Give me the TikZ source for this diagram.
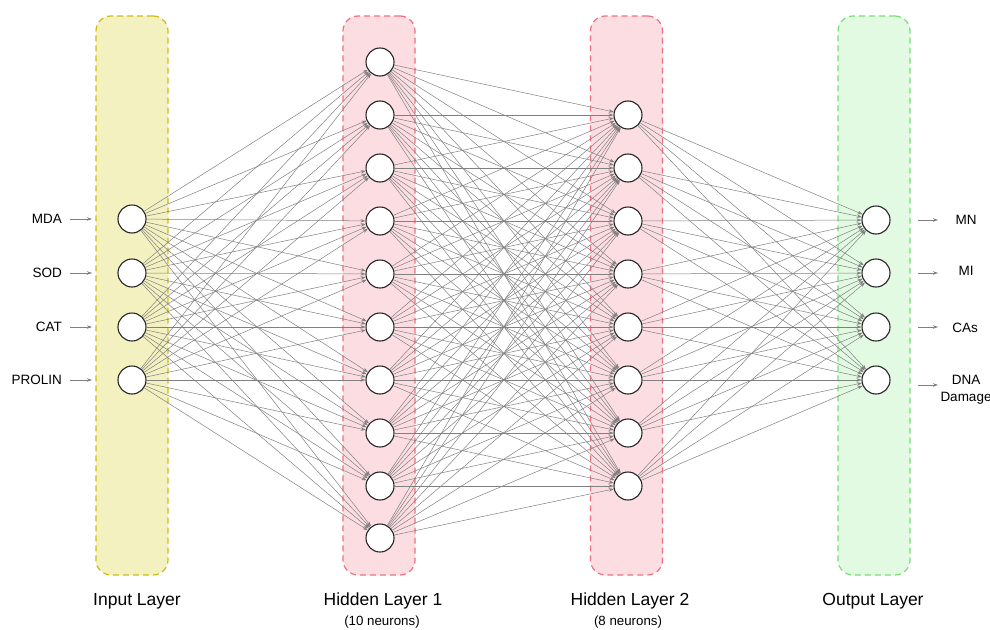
\documentclass[tikz,border=0pt]{standalone}
\usepackage{fontspec}
\setmainfont{Liberation Sans}
\usetikzlibrary{arrows.meta}
\definecolor{yfill}{RGB}{243,241,192}
\definecolor{ydraw}{RGB}{205,188,20}
\definecolor{pfill}{RGB}{252,221,226}
\definecolor{pdraw}{RGB}{236,112,130}
\definecolor{gfill}{RGB}{226,249,226}
\definecolor{gdraw}{RGB}{120,222,120}
\definecolor{edgec}{RGB}{128,128,128}
\tikzset{
  layerbox/.style={rounded corners=15pt, dashed, dash pattern=on 6pt off 4pt, line width=1.2pt, minimum width=72pt, minimum height=559pt, inner sep=0pt},
  neuron/.style={circle, draw=black!85, fill=white, line width=1.1pt, minimum size=28pt, inner sep=0pt},
  edge/.style={draw=edgec, line width=0.5pt, -{Stealth[length=5pt,width=3.5pt]}},
  labarrow/.style={draw=edgec, line width=0.8pt, -{Stealth[length=5pt,width=3.5pt]}},
  inlab/.style={font=\fontsize{13.5}{15}\selectfont, anchor=east, inner sep=0pt},
  outlab/.style={font=\fontsize{13.5}{16.5}\selectfont, align=center, inner sep=0pt},
  title/.style={font=\fontsize{17.5}{19}\selectfont, inner sep=0pt},
  sub/.style={font=\fontsize{13.3}{15}\selectfont, inner sep=0pt}
}
\begin{document}
\begin{tikzpicture}[x=1pt,y=-1pt]
\useasboundingbox (0,0) rectangle (990,629);
% layer boxes
\node[layerbox, draw=ydraw, fill=yfill] (Lin) at (132,295.5) {};
\node[layerbox, draw=pdraw, fill=pfill] (Lh1) at (379,295.5) {};
\node[layerbox, draw=pdraw, fill=pfill] (Lh2) at (626.5,295.5) {};
\node[layerbox, draw=gdraw, fill=gfill] (Lout) at (874,295.5) {};
% neurons
\foreach \i/\y in {1/219,2/273,3/327,4/380} \node[neuron] (i\i) at (132,\y) {};
\foreach \i/\y in {1/62,2/115,3/168,4/221,5/274,6/327,7/380,8/433,9/486,10/538} \node[neuron] (a\i) at (380,\y) {};
\foreach \i/\y in {1/115,2/168,3/221,4/274,5/327,6/380,7/433,8/486} \node[neuron] (b\i) at (628,\y) {};
\foreach \i/\y in {1/220,2/273,3/327,4/380} \node[neuron] (o\i) at (876,\y) {};
% connections
\foreach \i in {1,...,4} \foreach \j in {1,...,10} \draw[edge] (i\i) -- (a\j);
\foreach \i in {1,...,10} \foreach \j in {1,...,8} \draw[edge] (a\i) -- (b\j);
\foreach \i in {1,...,8} \foreach \j in {1,...,4} \draw[edge] (b\i) -- (o\j);
% input labels
\node[inlab] (t1) at (62,219) {MDA};
\node[inlab] (t2) at (62,273) {SOD};
\node[inlab] (t3) at (62,327) {CAT};
\node[inlab] (t4) at (62,380) {PROLIN};
\foreach \i/\y in {1/219,2/273,3/327,4/380} {
  \coordinate (ia\i) at (70,\y); \coordinate (ib\i) at (92,\y);
  \draw[labarrow] (ia\i) -- (ib\i);
}
% output labels
\foreach \i/\y in {1/220,2/273,3/327,4/385} {
  \coordinate (oa\i) at (918,\y); \coordinate (ob\i) at (938,\y);
  \draw[labarrow] (oa\i) -- (ob\i);
}
\node[outlab] (u1) at (966,220) {MN};
\node[outlab] (u2) at (966,271) {MI};
\node[outlab] (u3) at (965,328) {CAs};
\node[outlab] (u4) at (966,390) {DNA\\Damage};
% titles
\node[title] (T1) at (137,601) {Input Layer};
\node[title] (T2) at (383,601) {Hidden Layer 1};
\node[sub] (S2) at (382,622) {(10 neurons)};
\node[title] (T3) at (630,601) {Hidden Layer 2};
\node[sub] (S3) at (628,622) {(8 neurons)};
\node[title] (T4) at (873,601) {Output Layer};
\end{tikzpicture}
\end{document}
